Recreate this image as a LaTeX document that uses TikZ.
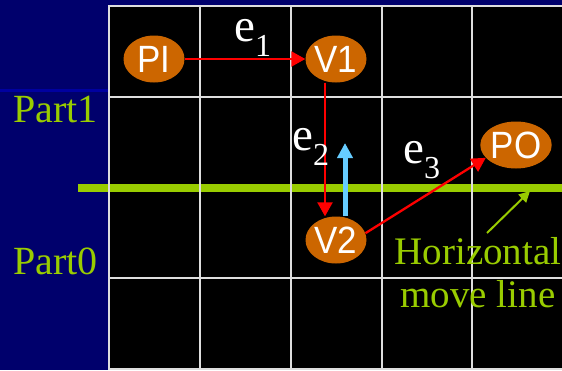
\documentclass[tikz,border=0pt]{standalone}
\usepackage{fontspec}
\setmainfont{Liberation Serif}
\newfontfamily\nodefont[FakeStretch=0.92]{Liberation Sans}
\usetikzlibrary{arrows.meta,calc,shapes.geometric}
\definecolor{navybg}{RGB}{0,0,108}
\definecolor{navystripe}{RGB}{0,0,160}
\definecolor{limegreen}{RGB}{153,204,0}
\definecolor{nodeorange}{RGB}{204,102,0}
\definecolor{skyblue}{RGB}{102,204,255}
\definecolor{gridgrey}{RGB}{222,222,222}
\tikzset{
  vnode/.style={ellipse, fill=nodeorange, minimum width=61pt, minimum height=47pt, inner sep=0pt,
    text=white, font=\nodefont\fontsize{38}{38}\selectfont},
  redarrow/.style={draw=red, line width=2.3pt, -{Triangle[length=14pt,width=15pt]}},
  bluearrow/.style={draw=skyblue, line width=5pt, -{Triangle[length=15pt,width=15pt]}},
  greenarrow/.style={draw=limegreen, line width=2pt, -{Triangle[length=11pt,width=11pt]}},
  gridline/.style={draw=gridgrey, line width=2pt},
  elabel/.style={anchor=base west, inner sep=0pt, text=white, font=\fontsize{47}{47}\selectfont},
  partlabel/.style={anchor=base west, inner sep=0pt, text=limegreen, font=\fontsize{40}{40}\selectfont},
}
\newcommand\subdigit[1]{\raisebox{-15pt}{\fontsize{32}{32}\selectfont #1}}
\begin{document}
\begin{tikzpicture}[x=1pt,y=-1pt]
\useasboundingbox (0,0) rectangle (562,370);
\fill[navybg] (0,0) rectangle (562,370);
\fill[black] (109,6) rectangle (562,370);
\draw[navystripe, line width=3.5pt] (0,90.5) -- (108,90.5);
% horizontal grid lines
\foreach \yy in {6,97,188,278,369} \draw[gridline] (108,\yy) -- (562,\yy);
% horizontal move line
\coordinate (gl) at (78,188);
\coordinate (gr) at (562,188);
\draw[limegreen, line width=8pt] (gl) -- (gr);
% vertical grid lines
\foreach \xx in {109,200,291,382,472} \draw[gridline] (\xx,5) -- (\xx,370);
% nodes
\node[vnode] (PI) at (154,59) {\raisebox{-2pt}{PI}};
\node[vnode] (V1) at (336,59) {\raisebox{-2pt}{V1}};
\node[vnode] (V2) at (336,240) {\raisebox{-2pt}{V2}};
\node[vnode] (PO) at (516,145) {PO};
% connectors
\draw[redarrow] (PI.east) -- (V1.west);
\draw[redarrow] ($(V1.south)+(-11,0)$) -- ($(V2.north)+(-11,0)$);
\draw[redarrow] (V2.13) -- (PO.203);
\coordinate (bluetip) at (345,143);
\draw[bluearrow] ($(V2.north)+(9,0)$) -- (bluetip);
% labels
\node[elabel] (e1) at (234,41) {e\subdigit{1}};
\node[elabel] (e2) at (292,150) {e\subdigit{2}};
\node[elabel] (e3) at (403,163) {e\subdigit{3}};
\node[partlabel] (p1) at (13,122) {Part1};
\node[partlabel] (p0) at (13,274) {Part0};
\node[anchor=north, inner sep=0pt, align=center, text=limegreen, font=\fontsize{39}{43}\selectfont] (hml) at (478,237.5) {Horizontal\\move line};
\coordinate (gs) at (487,233);
\coordinate (ge) at (530,191);
\draw[greenarrow] (gs) -- (ge);
\end{tikzpicture}
\end{document}
